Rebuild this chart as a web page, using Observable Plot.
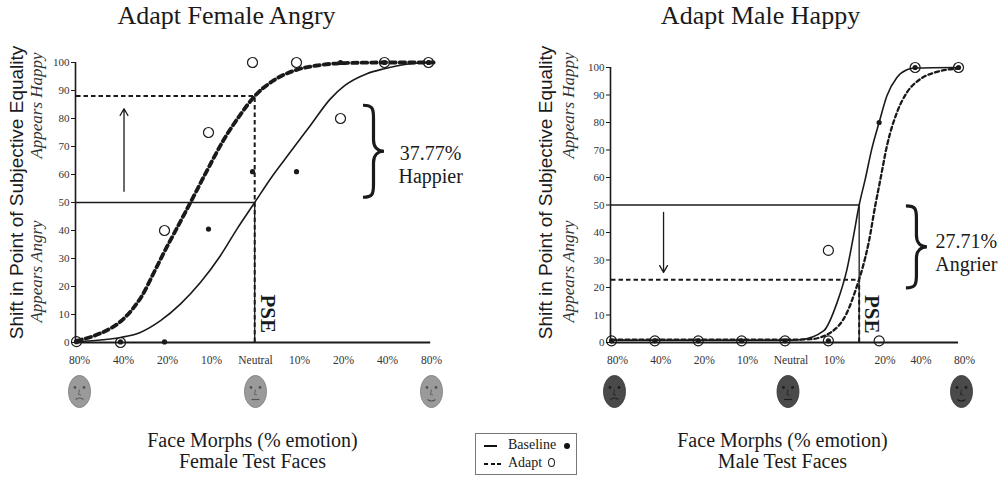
<!DOCTYPE html>
<html><head><meta charset="utf-8">
<script src="https://cdn.jsdelivr.net/npm/d3@7"></script>
<script src="https://cdn.jsdelivr.net/npm/@observablehq/plot@0.6"></script>
<style>
body{margin:0;background:#fff;}
#wrap{position:relative;width:1000px;height:477px;overflow:hidden;font-family:"Liberation Serif","Times New Roman",serif;color:#1a1a1a;background:#fff}
#left,#right{position:absolute;top:0}
#left{left:0}#right{left:500px}
#legend{position:absolute;left:475px;top:433px;width:102px;height:42px;border:1px solid #777;box-sizing:border-box;background:#fff;font-size:14px}
#legend .s{position:absolute}
</style></head><body>
<div id="wrap">
<div id="left"></div><div id="right"></div>
<div id="legend">
 <span class="s" style="left:8px;top:10.5px;width:13px;height:2.5px;background:#111"></span>
 <span class="s" id="lgB" style="left:32px;top:3px;line-height:16px"></span>
 <span class="s" style="left:88px;top:9px;width:6px;height:6px;border-radius:50%;background:#111"></span>
 <span class="s" style="left:8px;top:28.5px;width:18px;height:2.5px;background:repeating-linear-gradient(90deg,#111 0 4px,transparent 4px 6.5px)"></span>
 <span class="s" id="lgA" style="left:32px;top:21px;line-height:16px"></span>
 <span class="s" style="left:72px;top:24px;width:7px;height:9px;border-radius:50%;border:1px solid #222;box-sizing:border-box"></span>
</div>
</div>
<script>
// ---------- data ----------
const categories = ["80%","40%","20%","10%","Neutral","10%","20%","40%","80%"];
const xLeft  = [0,1,2,3,4,5,6,7,8];
const xRight = [0,1,2,3,4,5,6.17,7,8];
const baselineLeft  = [0.3, 0.2, 0.2, 40.5, 61, 61, 100, 100, 100];
const adaptLeft     = [[0.3],[0],[40],[75],[100],[100],[80],[100],[100]];
const baselineRight = [0.6,0.6,0.6,0.6,0.6,0.6,80,100,100];
const adaptRight    = [[0.6],[0.6],[0.6],[0.6],[0.6],[0.6,33.5],[0.6],[100],[100]];
// fitted psychometric curves: [category position, % happy]
const baselineCurveLeft = [[0,0.3],[0.6,1],[1,1.8],[1.45,3.6],[1.91,7.8],[2.36,13.7],[2.82,21.5],[3.27,31],[3.65,40.6],[4.05,50],[4.41,58.5],[4.86,68],[5.32,77.6],[5.77,87],[6.1,91.8],[6.6,96],[7,97.8],[7.5,99.4],[8.05,100]];
const adaptCurveLeft = [[0,0.6],[0.5,3],[1,7.5],[1.25,11.5],[1.5,17],[1.76,25],[2.0,32.5],[2.27,40.5],[2.59,50],[2.97,61.5],[3.35,72.5],[3.73,81.5],[4.05,88],[4.48,93.6],[5.05,97.6],[5.5,99],[6.1,99.8],[7,100],[8.16,100]];
const baselineCurveRight = [[0,0.8],[2,0.8],[4,0.8],[4.35,1],[4.89,4.2],[5.2,14.5],[5.43,26.7],[5.58,38.8],[5.71,50],[5.85,59.4],[6.0,70.3],[6.17,80],[6.35,89.7],[6.58,96.4],[6.81,99.2],[6.99,99.8],[7.97,100]];
const adaptCurveRight = [[0,1],[2,1],[4,1],[4.58,1.2],[5.05,3.6],[5.43,10.9],[5.66,20.6],[5.78,26.7],[5.93,36.4],[6.08,49.7],[6.2,59.4],[6.35,71.5],[6.58,83.6],[6.81,90.9],[7.12,95.8],[7.5,98.4],[7.97,99.6]];
const pseLeft = 4.05, shiftedLeft = 88;
const pseRight = 5.71, shiftedRight = 22.8;
const shiftTexts = ["37.77%\nHappier", "27.71%\nAngrier"];
const titles = ["Adapt Female Angry", "Adapt Male Happy"];
const xTitle = "Face Morphs (% emotion)";
const subTitles = ["Female Test Faces", "Male Test Faces"];
const yTitle = "Shift in Point of Subjective Equality";
const yTop = "Appears Happy", yBottom = "Appears Angry";
const yTicks = [0,10,20,30,40,50,60,70,80,90,100];
const faceCats = [0, 4, 8];
const faceMood = [-1, 0, 1];
const legendLabels = ["Baseline", "Adapt"];

document.getElementById("lgB").textContent = legendLabels[0];
document.getElementById("lgA").textContent = legendLabels[1];

// ---------- helpers ----------
const SERIF = "'Liberation Serif','Times New Roman',serif";
const SANS = "'Liberation Sans',Arial,sans-serif";
const INK = "#1a1a1a";
const pts = (xs, vals) => vals.flatMap((v, i) => [].concat(v).map(y => ({x: xs[i], y})));

function ellipseSymbol(rx, ry) {
  return {draw(ctx) {
    const k = 0.5523;
    ctx.moveTo(rx, 0);
    ctx.bezierCurveTo(rx, k*ry, k*rx, ry, 0, ry);
    ctx.bezierCurveTo(-k*rx, ry, -rx, k*ry, -rx, 0);
    ctx.bezierCurveTo(-rx, -k*ry, -k*rx, -ry, 0, -ry);
    ctx.bezierCurveTo(k*rx, -ry, rx, -k*ry, rx, 0);
    ctx.closePath();
  }};
}
function mouthSymbol(curv) {
  return {draw(ctx) { ctx.moveTo(-4, 0); ctx.quadraticCurveTo(0, curv, 4, 0); }};
}
function noseSymbol() {
  return {draw(ctx) { ctx.moveTo(0, -3); ctx.lineTo(-1, 2); ctx.lineTo(1.5, 2.5); }};
}
function braceSymbol(h, w) {
  return {draw(ctx) {
    const t = -h/2, b = h/2, hw = w/2;
    ctx.moveTo(-hw, t);
    ctx.bezierCurveTo(-1, t, 0, t + 3, 0, t + hw + 2);
    ctx.lineTo(0, -hw - 1);
    ctx.bezierCurveTo(0, -3, hw*0.5, 0, hw, 0);
    ctx.bezierCurveTo(hw*0.5, 0, 0, 3, 0, hw + 1);
    ctx.lineTo(0, b - hw - 2);
    ctx.bezierCurveTo(0, b - 3, -1, b, -hw, b);
  }};
}

function panel(o) {
  const W = 500, H = 477, bottom = 342;
  const txt = (text, px, py, opt = {}) => Plot.text([text], {
    text: d => d, frameAnchor: "top-left", dx: px - o.ml, dy: py - o.mt,
    textAnchor: "middle", lineAnchor: "middle",
    fontFamily: SERIF, fill: INK, ...opt
  });
  const faces = faceCats.map((c, i) => ({x: o.xs[c], mood: faceMood[i]}));
  const faceY = 391 - bottom;
  const faceMarks = [
    Plot.dot(faces, {x: "x", frameAnchor: "bottom", dx: o.faceDx, dy: faceY, r: 5,
      symbol: ellipseSymbol(11, 16), fill: o.faceFill, stroke: o.faceStroke, strokeWidth: 0.8}),
    Plot.dot(faces, {x: "x", frameAnchor: "bottom", dx: o.faceDx - 4.5, dy: faceY - 4, r: 1.4, fill: o.faceDark}),
    Plot.dot(faces, {x: "x", frameAnchor: "bottom", dx: o.faceDx + 4.5, dy: faceY - 4, r: 1.4, fill: o.faceDark}),
    Plot.dot(faces, {x: "x", frameAnchor: "bottom", dx: o.faceDx, dy: faceY + 1, r: 3,
      symbol: noseSymbol(), fill: "none", stroke: o.faceDark, strokeWidth: 0.8})
  ];
  faces.forEach(f => {
    faceMarks.push(Plot.dot([f], {x: "x", frameAnchor: "bottom", dx: o.faceDx, dy: faceY + 8, r: 3,
      symbol: mouthSymbol(f.mood * 3), fill: "none", stroke: o.faceDark, strokeWidth: 1.2}));
  });
  return Plot.plot({
    width: W, height: H,
    marginLeft: o.ml, marginRight: W - o.xEnd, marginTop: o.mt, marginBottom: H - bottom,
    x: {domain: [0, 8], axis: null},
    y: {domain: [0, 100], axis: null},
    style: {fontFamily: SERIF, background: "#fff", color: INK, overflow: "visible"},
    marks: [
      // axes lines
      Plot.ruleY([0], {x1: o.xAxisStart, x2: o.xAxisEnd, stroke: INK, strokeWidth: 1.8}),
      Plot.ruleX([0], {y1: 0, y2: 100, dx: -1, stroke: INK, strokeWidth: 1.6}),
      Plot.axisY(yTicks, {tickSize: 4, tickPadding: 2, fontSize: 11, fontFamily: SERIF, label: null, dx: -1, stroke: INK, fill: "#333"}),
      Plot.text(o.xs, {x: d => d, text: (d, i) => categories[i], frameAnchor: "bottom", dy: 21, dx: o.tickDx,
        fontSize: 11.5, fontFamily: SERIF, fill: "#333"}),
      // PSE reference lines
      Plot.ruleY([50], {x1: 0, x2: o.pse, stroke: INK, strokeWidth: 1.3}),
      Plot.ruleX([o.pse], {y1: 0, y2: 50, stroke: INK, strokeWidth: 1.3}),
      Plot.ruleY([o.shifted], {x1: 0, x2: o.pse, stroke: INK, strokeWidth: 2, strokeDasharray: "4.5,3"}),
      Plot.ruleX([o.pse], {y1: 0, y2: Math.max(o.shifted, 0), stroke: INK, strokeWidth: 2, strokeDasharray: "4.5,3"}),
      // fitted curves
      Plot.line(o.baseCurve, {x: d => d[0], y: d => d[1], curve: "monotone-x", stroke: INK, strokeWidth: 1.6}),
      Plot.line(o.adaptCurve, {x: d => d[0], y: d => d[1], curve: "monotone-x", stroke: INK,
        strokeWidth: o.dashW, strokeDasharray: o.dash}),
      // observations
      Plot.dot(pts(o.xs, o.base), {x: "x", y: "y", r: 2.6, fill: INK}),
      Plot.dot(pts(o.xs, o.adapt), {x: "x", y: "y", r: 5, fill: "none", stroke: INK, strokeWidth: 1.2}),
      // shift arrow
      Plot.arrow([o.arrow], {x1: d => d[0], x2: d => d[0], y1: d => d[1], y2: d => d[2],
        stroke: INK, strokeWidth: 1.3, headLength: 9}),
      Plot.text(["PSE"], {x: o.pse, y: 10.3, dx: 13, text: d => d, rotate: 90, fontWeight: "bold",
        fontSize: 21, fontFamily: SERIF, fill: INK}),
      // brace and label
      Plot.dot([o.brace], {x: d => d[0], y: d => d[1], r: 5, symbol: braceSymbol(o.brace[2], 21),
        fill: "none", stroke: INK, strokeWidth: 3.2}),
      Plot.text([o.shiftText], {x: o.shiftPos[0], y: o.shiftPos[1], text: d => d, fontSize: 20,
        lineHeight: 1.15, fontFamily: SERIF, fill: INK}),
      // titles and axis labels
      txt(o.title, o.titleX, 15, {fontSize: 26}),
      txt(yTitle, o.yTitleX, 192, {fontSize: 19, rotate: -90, fontFamily: SANS}),
      txt(yTop, o.yItalX, 105, {fontSize: 17, rotate: -90, fontStyle: "italic", fill: "#333"}),
      txt(yBottom, o.yItalX, 271, {fontSize: 17, rotate: -90, fontStyle: "italic", fill: "#333"}),
      txt(xTitle, o.subX, 440, {fontSize: 20}),
      txt(o.sub, o.subX, 461, {fontSize: 20}),
      ...faceMarks
    ]
  });
}

document.getElementById("left").append(panel({
  xs: xLeft, base: baselineLeft, adapt: adaptLeft,
  baseCurve: baselineCurveLeft, adaptCurve: adaptCurveLeft,
  pse: pseLeft, shifted: shiftedLeft,
  ml: 76, xEnd: 428, mt: 62, xAxisStart: -0.03, xAxisEnd: 8.05,
  dashW: 3.8, dash: "5.5,4", tickDx: 3,
  arrow: [1.08, 54, 83.5], brace: [6.75, 68.3, 92], shiftText: shiftTexts[0], shiftPos: [8.05, 63.8],
  title: titles[0], titleX: 226, yTitleX: 16, yItalX: 36, sub: subTitles[0], subX: 252,
  faceFill: "#9a9a9a", faceStroke: "#777", faceDark: "#555", faceDx: 3
}));
document.getElementById("right").append(panel({
  xs: xRight, base: baselineRight, adapt: adaptRight,
  baseCurve: baselineCurveRight, adaptCurve: adaptCurveRight,
  pse: pseRight, shifted: shiftedRight,
  ml: 111, xEnd: 458, mt: 67, xAxisStart: -0.02, xAxisEnd: 8,
  dashW: 2.3, dash: "4,3", tickDx: 6,
  arrow: [1.2, 47.3, 25.5], brace: [7.03, 34.8, 82], shiftText: shiftTexts[1], shiftPos: [8.18, 32.8],
  title: titles[1], titleX: 260, yTitleX: 45, yItalX: 68, sub: subTitles[1], subX: 282,
  faceFill: "#4a4a4a", faceStroke: "#333", faceDark: "#1e1e1e", faceDx: 3
}));
</script>
</body></html>
